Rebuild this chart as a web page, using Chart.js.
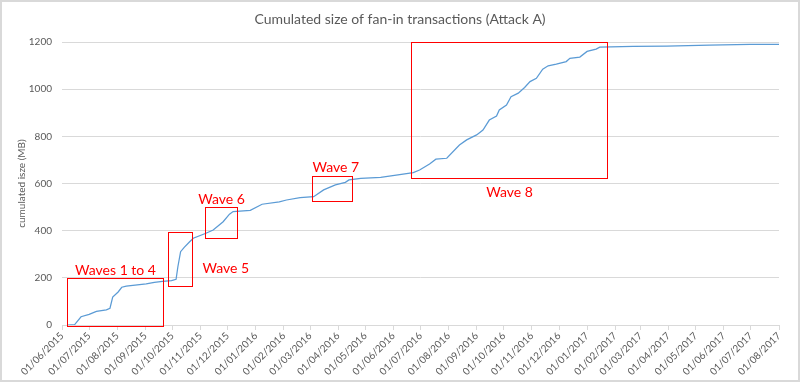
<!DOCTYPE html>
<html>
<head>
<meta charset="utf-8">
<script src="https://cdn.jsdelivr.net/npm/chart.js@4/dist/chart.umd.min.js"></script>
<style>
  html, body { margin: 0; padding: 0; background: #fff; }
  #wrap { width: 800px; height: 382px; }
</style>
</head>
<body>
<div id="wrap"><canvas id="fanin" width="800" height="382"></canvas></div>
<script>
// Month ticks of the date axis
const tickLabels = [
    '01/06/2015', '01/07/2015', '01/08/2015', '01/09/2015', '01/10/2015', '01/11/2015',
    '01/12/2015', '01/01/2016', '01/02/2016', '01/03/2016', '01/04/2016', '01/05/2016',
    '01/06/2016', '01/07/2016', '01/08/2016', '01/09/2016', '01/10/2016', '01/11/2016',
    '01/12/2016', '01/01/2017', '01/02/2017', '01/03/2017', '01/04/2017', '01/05/2017',
    '01/06/2017', '01/07/2017', '01/08/2017'
];

// Cumulated size (MB)
const dates = [
    '2015-06-07', '2015-06-15', '2015-06-22', '2015-07-01', '2015-07-09', '2015-07-20',
    '2015-07-24', '2015-07-27', '2015-08-02', '2015-08-06', '2015-08-11', '2015-09-02',
    '2015-09-11', '2015-09-20', '2015-09-30', '2015-10-05', '2015-10-07', '2015-10-10',
    '2015-10-14', '2015-10-20', '2015-10-24', '2015-11-07', '2015-11-15', '2015-11-26',
    '2015-12-03', '2015-12-07', '2015-12-26', '2016-01-08', '2016-01-27', '2016-02-04',
    '2016-02-19', '2016-03-05', '2016-03-16', '2016-03-29', '2016-04-09', '2016-04-13',
    '2016-04-26', '2016-05-18', '2016-06-08', '2016-06-23', '2016-06-30', '2016-07-11',
    '2016-07-18', '2016-07-30', '2016-08-13', '2016-08-21', '2016-09-01', '2016-09-08',
    '2016-09-15', '2016-09-23', '2016-09-26', '2016-10-04', '2016-10-09', '2016-10-17',
    '2016-10-24', '2016-10-30', '2016-11-06', '2016-11-13', '2016-11-19', '2016-11-28',
    '2016-12-09', '2016-12-13', '2016-12-24', '2017-01-01', '2017-01-11', '2017-01-15',
    '2017-02-21', '2017-03-30', '2017-05-16', '2017-06-30', '2017-08-01'
];
const sizes = [
    0, 2, 35, 45, 58, 64,
    71, 118, 140, 160, 165, 174,
    181, 185, 188, 194, 247, 311,
    329, 353, 368, 389, 403, 438,
    470, 481, 486, 512, 522, 530,
    540, 544, 573, 594, 605, 615,
    622, 626, 638, 646, 657, 683,
    703, 707, 763, 785, 806, 827,
    869, 886, 912, 933, 968, 983,
    1007, 1032, 1046, 1085, 1099, 1106,
    1117, 1131, 1136, 1160, 1170, 1178,
    1181, 1183, 1187, 1190, 1190
];

// Attack waves (boxes on the chart)
const waveNames = ['Waves 1 to 4', 'Wave 5', 'Wave 6', 'Wave 7', 'Wave 8'];
const waveFrom  = ['2015-06-07', '2015-09-26', '2015-11-06', '2016-03-03', '2016-06-21'];
const waveTo    = ['2015-09-21', '2015-10-23', '2015-12-11', '2016-04-16', '2017-01-23'];
const waveLow   = [-3, 164, 369, 527, 623];
const waveHigh  = [198, 394, 499, 632, 1200];

// jour 0 = 01/06/2015
const DAY0 = Date.UTC(2015, 5, 1);
function dayOf(str) {
    let y, m, d;
    if (str.indexOf('/') > 0) {
        [d, m, y] = str.split('/').map(Number);
    } else {
        [y, m, d] = str.split('-').map(Number);
    }
    return (Date.UTC(y, m - 1, d) - DAY0) / 86400000;
}

const points = dates.map((d, i) => ({ x: dayOf(d), y: sizes[i] }));
const tickDays = tickLabels.map(dayOf);

const GREY = '#595959';
const GRID = '#d9d9d9';
const RED = '#ff0000';

// where each wave label sits relative to its box
const labelPlace = ['above', 'right', 'above', 'aboveLeft', 'below'];

const frameAndTitle = {
    id: 'frameAndTitle',
    beforeDraw(chart) {
        const c = chart.ctx;
        c.save();
        c.fillStyle = '#fff';
        c.fillRect(0, 0, chart.width, chart.height);
        c.strokeStyle = GRID;
        c.lineWidth = 2;
        c.strokeRect(1, 1, chart.width - 2, chart.height - 2);
        c.fillStyle = GREY;
        c.font = '14px Lato';
        c.textAlign = 'center';
        c.textBaseline = 'middle';
        c.fillText('Cumulated size of fan-in transactions (Attack A)', 400, 19);
        c.restore();
    }
};

const waveBoxes = {
    id: 'waveBoxes',
    afterDatasetsDraw(chart) {
        const c = chart.ctx;
        const xs = chart.scales.x, ys = chart.scales.y;
        c.save();
        c.strokeStyle = RED;
        c.fillStyle = RED;
        c.lineWidth = 1;
        c.font = '14px Lato';
        waveNames.forEach((name, i) => {
            const x1 = Math.round(xs.getPixelForValue(dayOf(waveFrom[i]))) + 0.5;
            const x2 = Math.round(xs.getPixelForValue(dayOf(waveTo[i]))) + 0.5;
            const y1 = Math.round(ys.getPixelForValue(waveHigh[i])) + 0.5;
            const y2 = Math.round(ys.getPixelForValue(waveLow[i])) + 0.5;
            c.strokeRect(x1, y1, x2 - x1, y2 - y1);
            c.textBaseline = 'middle';
            const p = labelPlace[i];
            if (p === 'above') {
                c.textAlign = 'center';
                c.fillText(name, (x1 + x2) / 2, y1 - 8);
            } else if (p === 'aboveLeft') {
                c.textAlign = 'left';
                c.fillText(name, x1, y1 - 9);
            } else if (p === 'right') {
                c.textAlign = 'left';
                c.fillText(name, x2 + 10, y2 - 18);
            } else {
                c.textAlign = 'center';
                c.fillText(name, (x1 + x2) / 2, y2 + 14);
            }
        });
        c.restore();
    }
};

const ctx = document.getElementById('fanin').getContext('2d');
new Chart(ctx, {
    type: 'line',
    data: {
        datasets: [{
            data: points,
            borderColor: '#5b9bd5',
            borderWidth: 1.25,
            pointRadius: 0,
            tension: 0,
            fill: false
        }]
    },
    options: {
        responsive: false,
        animation: false,
        layout: { padding: { top: 42, right: 21, left: 0, bottom: 0 } },
        plugins: {
            legend: { display: false },
            title: { display: false },
            tooltip: { enabled: false }
        },
        scales: {
            x: {
                type: 'linear',
                min: 0,
                max: tickDays[tickDays.length - 1],
                afterBuildTicks: scale => {
                    scale.ticks = tickDays.map(v => ({ value: v }));
                },
                afterFit: scale => { scale.height = 57; },
                grid: { display: true, drawOnChartArea: false, drawTicks: true, tickLength: 5, color: GRID },
                border: { display: true, color: GRID },
                ticks: {
                    autoSkip: false,
                    minRotation: 45,
                    maxRotation: 45,
                    padding: 0,
                    color: GREY,
                    font: { family: 'Lato', size: 10 },
                    callback: (v, i) => tickLabels[i]
                }
            },
            y: {
                min: 0,
                max: 1200,
                afterFit: scale => { scale.width = 62; },
                grid: { color: GRID, drawTicks: false },
                border: { display: false },
                title: {
                    display: true,
                    text: 'cumulated isze (MB)',
                    color: GREY,
                    font: { family: 'Lato', size: 10 },
                    padding: { top: 16, bottom: 0 }
                },
                ticks: {
                    stepSize: 200,
                    padding: 10,
                    color: GREY,
                    font: { family: 'Lato', size: 10 },
                    callback: v => String(v)
                }
            }
        }
    },
    plugins: [frameAndTitle, waveBoxes]
});
</script>
</body>
</html>
